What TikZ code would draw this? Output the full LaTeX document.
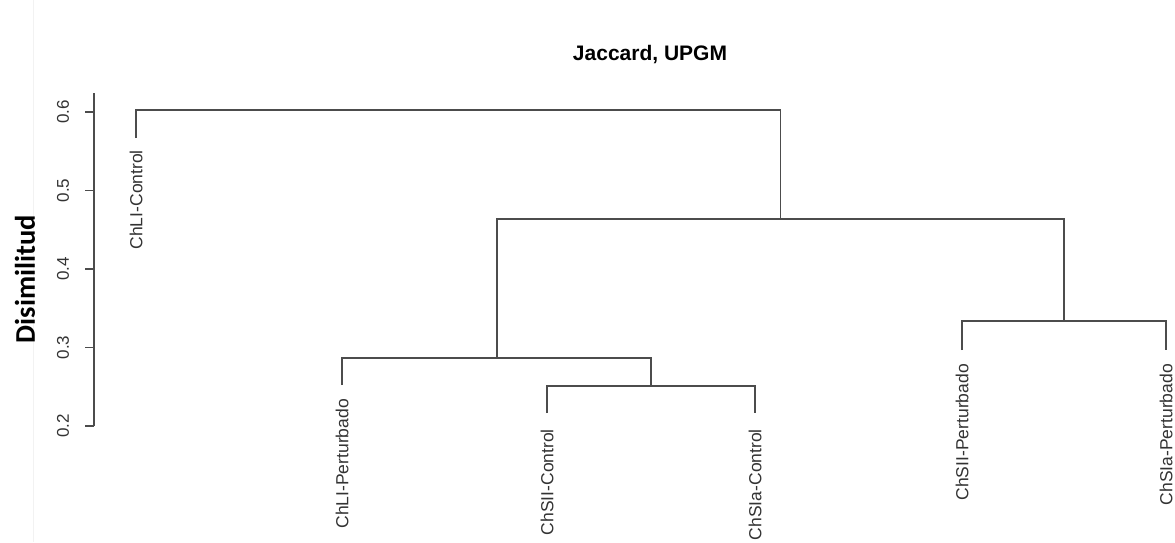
\documentclass[tikz,border=0pt]{standalone}
\usepackage{fontspec}
\setmainfont{Liberation Sans}
\newfontfamily\calibri{Carlito}

\tikzset{
  branch/.style={draw=black!70, line width=1.4pt},
  leaflabel/.style={rotate=90, anchor=east, inner sep=0pt, text=black!80,
    font=\fontsize{17.5}{17.5}\selectfont},
  ticklabel/.style={rotate=90, inner sep=0pt, text=black!80,
    font=\fontsize{17}{17}\selectfont},
}

\begin{document}
\begin{tikzpicture}[x=1pt,y=-1pt]
    \useasboundingbox (0,0) rectangle (1175,542);
    \draw[black!5, line width=0.8pt] (33,0) -- (33,542);

    \node[font=\fontsize{21}{21}\selectfont\bfseries] (title) at (650,55) {Jaccard, UPGM};
    \node[rotate=90, font=\fontsize{28.5}{28.5}\selectfont\calibri\bfseries] (ylab) at (25,279) {Disimilitud};

    % axis
    \coordinate (atop) at (94,93);
    \coordinate (abot) at (94,426);
    \draw[branch] (atop) -- (abot);
    \foreach \v/\y [count=\i] in {0.2/426,0.3/347.5,0.4/269,0.5/190.5,0.6/112}
    {
      \coordinate (tk\i) at (94,\y);
      \coordinate (tl\i) at (85,\y);
      \draw[branch] (tk\i) -- (tl\i);
      \node[ticklabel] (n\i) at (63,\y) {\v};
    };

    % leaves
    \coordinate (l1) at (136,138);
    \coordinate (l2) at (342,385);
    \coordinate (l3) at (547,413);
    \coordinate (l4) at (755,413);
    \coordinate (l5) at (962,350);
    \coordinate (l6) at (1166,350);

    % merges
    \coordinate (m1) at (458.5,110);
    \coordinate (m2) at (780.5,219);
    \coordinate (m3) at (497,358);
    \coordinate (m4) at (1064,321);
    \coordinate (m5) at (651,386);

    \draw[branch] (l1) |- (m1) -| (m2);
    \draw[branch] (m3) |- (m2) -| (m4);
    \draw[branch] (l2) |- (m3) -| (m5);
    \draw[branch] (l3) |- (m5) -| (l4);
    \draw[branch] (l5) |- (m4) -| (l6);

    \node[leaflabel] (c1) at ([yshift=-12]l1) {ChLI-Control};
    \node[leaflabel] (c2) at ([yshift=-14]l2) {ChLI-Perturbado};
    \node[leaflabel] (c3) at ([yshift=-16]l3) {ChSII-Control};
    \node[leaflabel] (c4) at ([yshift=-16]l4) {ChSIa-Control};
    \node[leaflabel] (c5) at ([yshift=-14]l5) {ChSII-Perturbado};
    \node[leaflabel] (c6) at ([yshift=-14]l6) {ChSIa-Perturbado};
\end{tikzpicture}
\end{document}
